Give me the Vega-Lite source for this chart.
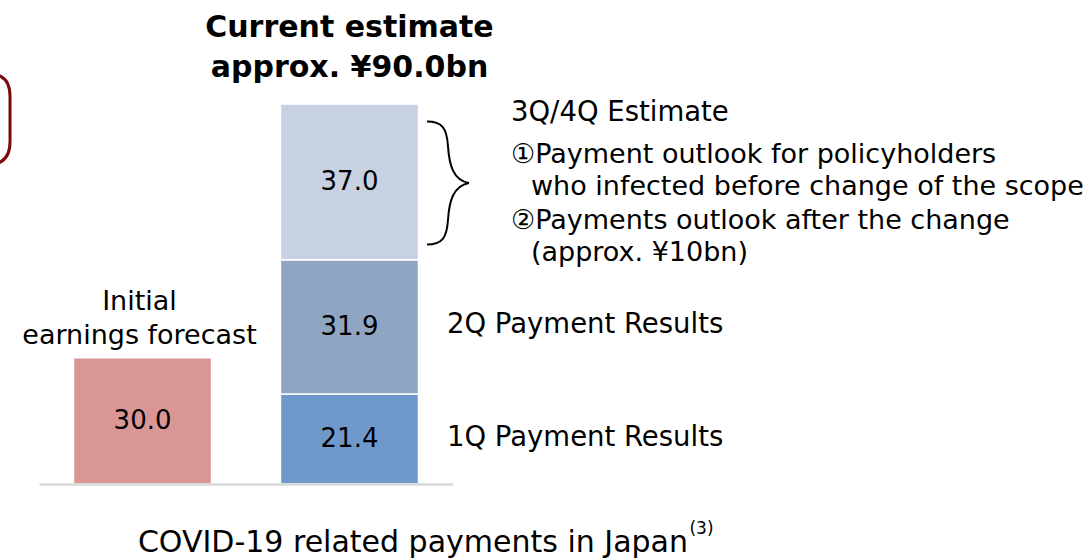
{
  "$schema": "https://vega.github.io/schema/vega-lite/v6.json",
  "width": 414,
  "height": 484,
  "autosize": {"type": "none"},
  "padding": {"left": 39, "top": 0, "right": 638, "bottom": 75},
  "background": "white",
  "config": {"view": {"stroke": null}, "font": "DejaVu Sans", "text": {"font": "DejaVu Sans", "color": "#000000"}},
  "data": {
    "values": [
      {"cat": "Initial", "segment": "Initial earnings forecast", "value": 30.0, "ord": 1},
      {"cat": "Current", "segment": "1Q Payment Results", "value": 21.4, "ord": 1},
      {"cat": "Current", "segment": "2Q Payment Results", "value": 31.9, "ord": 2},
      {"cat": "Current", "segment": "3Q/4Q Estimate", "value": 37.0, "ord": 3}
    ]
  },
  "layer": [
    {
      "mark": {"type": "bar", "stroke": "white", "strokeWidth": 1.5},
      "encoding": {
        "x": {
          "field": "cat", "type": "nominal",
          "scale": {"domain": ["Initial", "Current"], "paddingInner": 0.333, "paddingOuter": 0.1667},
          "axis": {"title": null, "labels": false, "ticks": false, "domainColor": "#d9d9d9", "domainWidth": 2.5, "zindex": 1}
        },
        "y": {
          "field": "value", "type": "quantitative", "stack": "zero",
          "scale": {"domain": [0, 115], "nice": false, "zero": true},
          "axis": null
        },
        "color": {
          "field": "segment", "type": "nominal",
          "scale": {
            "domain": ["Initial earnings forecast", "1Q Payment Results", "2Q Payment Results", "3Q/4Q Estimate"],
            "range": ["#d99694", "#7099cb", "#8ea6c1", "#c7d1e1"]
          },
          "legend": null
        },
        "order": {"field": "ord", "type": "quantitative"}
      }
    },
    {
      "transform": [
        {"stack": "value", "groupby": ["cat"], "sort": [{"field": "ord"}], "as": ["v0", "v1"]},
        {"calculate": "(datum.v0 + datum.v1) / 2", "as": "mid"}
      ],
      "mark": {"type": "text", "fontSize": 26, "align": "center", "baseline": "middle"},
      "encoding": {
        "x": {"field": "cat", "type": "nominal"},
        "y": {"field": "mid", "type": "quantitative"},
        "text": {"field": "value", "type": "quantitative", "format": ".1f"}
      }
    },
    {
      "data": {"values": [{}]},
      "mark": {"type": "text", "fontSize": 30, "fontWeight": "bold", "align": "center", "baseline": "middle", "lineHeight": 40},
      "encoding": {
        "x": {"datum": "Current", "type": "nominal"},
        "y": {"datum": 108.3, "type": "quantitative"},
        "text": {"value": ["Current estimate", "approx. ¥90.0bn"]}
      }
    },
    {
      "data": {"values": [{}]},
      "mark": {"type": "text", "fontSize": 27, "align": "center", "baseline": "middle", "lineHeight": 34, "dx": -3},
      "encoding": {
        "x": {"datum": "Initial", "type": "nominal"},
        "y": {"datum": 43.3, "type": "quantitative"},
        "text": {"value": ["Initial", "earnings forecast"]}
      }
    },
    {
      "data": {"values": [{}]},
      "mark": {"type": "text", "fontSize": 27.5, "align": "left", "baseline": "middle", "dx": 161.5},
      "encoding": {
        "x": {"datum": "Current", "type": "nominal"},
        "y": {"datum": 88.1, "type": "quantitative"},
        "text": {"value": "3Q/4Q Estimate"}
      }
    },
    {
      "data": {"values": [{}]},
      "mark": {"type": "text", "fontSize": 27, "align": "left", "baseline": "middle", "dx": 161.5},
      "encoding": {
        "x": {"datum": "Current", "type": "nominal"},
        "y": {"datum": 78.1, "type": "quantitative"},
        "text": {"value": "①Payment outlook for policyholders"}
      }
    },
    {
      "data": {"values": [{}]},
      "mark": {"type": "text", "fontSize": 27, "align": "left", "baseline": "middle", "dx": 181.5},
      "encoding": {
        "x": {"datum": "Current", "type": "nominal"},
        "y": {"datum": 70.5, "type": "quantitative"},
        "text": {"value": "who infected before change of the scope"}
      }
    },
    {
      "data": {"values": [{}]},
      "mark": {"type": "text", "fontSize": 27, "align": "left", "baseline": "middle", "dx": 161.5},
      "encoding": {
        "x": {"datum": "Current", "type": "nominal"},
        "y": {"datum": 62.5, "type": "quantitative"},
        "text": {"value": "②Payments outlook after the change"}
      }
    },
    {
      "data": {"values": [{}]},
      "mark": {"type": "text", "fontSize": 27, "align": "left", "baseline": "middle", "dx": 181.5},
      "encoding": {
        "x": {"datum": "Current", "type": "nominal"},
        "y": {"datum": 54.9, "type": "quantitative"},
        "text": {"value": "(approx. ¥10bn)"}
      }
    },
    {
      "data": {"values": [{}]},
      "mark": {"type": "text", "fontSize": 27.5, "align": "left", "baseline": "middle", "dx": 97.5},
      "encoding": {
        "x": {"datum": "Current", "type": "nominal"},
        "y": {"datum": 37.8, "type": "quantitative"},
        "text": {"value": "2Q Payment Results"}
      }
    },
    {
      "data": {"values": [{}]},
      "mark": {"type": "text", "fontSize": 27.5, "align": "left", "baseline": "middle", "dx": 97.5},
      "encoding": {
        "x": {"datum": "Current", "type": "nominal"},
        "y": {"datum": 10.9, "type": "quantitative"},
        "text": {"value": "1Q Payment Results"}
      }
    },
    {
      "data": {"values": [{}]},
      "mark": {"type": "text", "fontSize": 30, "align": "right", "baseline": "middle", "dx": 338.5},
      "encoding": {
        "x": {"datum": "Current", "type": "nominal"},
        "y": {"datum": -14.1, "type": "quantitative"},
        "text": {"value": "COVID-19 related payments in Japan"}
      }
    },
    {
      "data": {"values": [{}]},
      "mark": {"type": "text", "fontSize": 17, "align": "left", "baseline": "middle", "dx": 340},
      "encoding": {
        "x": {"datum": "Current", "type": "nominal"},
        "y": {"datum": -10.8, "type": "quantitative"},
        "text": {"value": "(3)"}
      }
    },
    {
      "data": {"values": [{}]},
      "mark": {
        "type": "point", "filled": false, "stroke": "#000000", "strokeWidth": 2, "opacity": 1,
        "size": 15129, "xOffset": 98.5,
        "shape": "M -0.34 -1 C -0.1 -1 -0.02 -0.9 0 -0.6 C 0.02 -0.3 0.08 -0.05 0.34 0 C 0.08 0.05 0.02 0.3 0 0.6 C -0.02 0.9 -0.1 1 -0.34 1"
      },
      "encoding": {
        "x": {"datum": "Current", "type": "nominal"},
        "y": {"datum": 71.5, "type": "quantitative"}
      }
    },
    {
      "data": {"values": [{}]},
      "mark": {
        "type": "point", "filled": false, "stroke": "#7b0a10", "strokeWidth": 3, "opacity": 1,
        "size": 10000, "xOffset": -132.5,
        "shape": "M -0.4 -0.9 Q 0 -0.9 0 -0.45 L 0 0.45 Q 0 0.9 -0.4 0.9"
      },
      "encoding": {
        "x": {"datum": "Initial", "type": "nominal"},
        "y": {"datum": 86.7, "type": "quantitative"}
      }
    }
  ]
}
